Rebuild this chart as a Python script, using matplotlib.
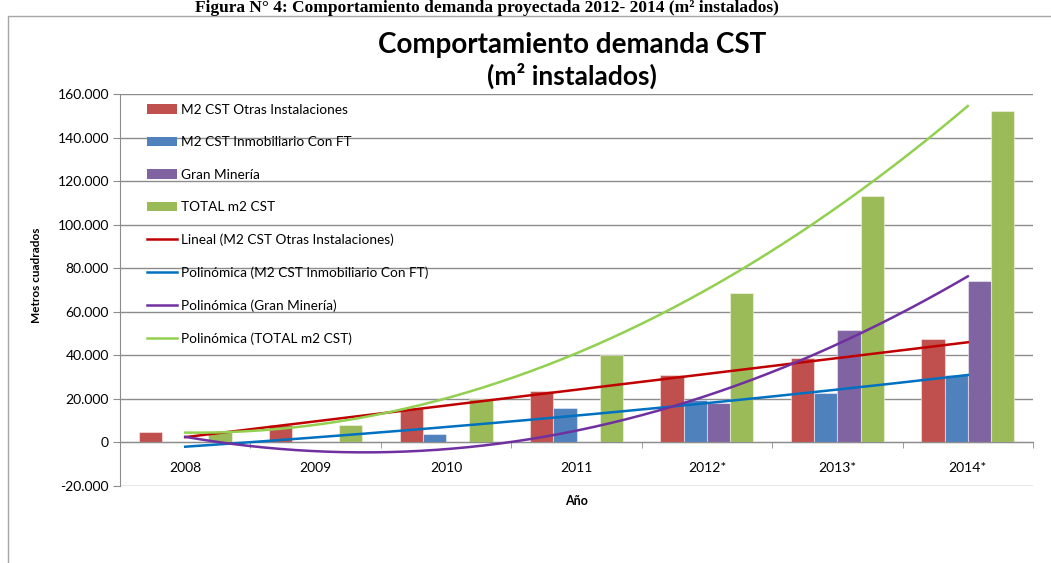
import numpy as np
import matplotlib
matplotlib.use("Agg")
import matplotlib.pyplot as plt
from matplotlib.patches import Rectangle, Patch
from matplotlib.lines import Line2D
from matplotlib.ticker import FuncFormatter, FixedLocator

plt.rcParams['font.family'] = ['Lato', 'DejaVu Sans']

# datos
years = ['2008', '2009', '2010', '2011', '2012*', '2013*', '2014*']
otras = [5000, 8000, 16000, 23500, 31000, 38700, 47300]
inmob = [0, 0, 4000, 16000, 19400, 22800, 30900]
mineria = [0, 0, 0, 0, 17900, 51700, 74200]
total = [5000, 8000, 20000, 40000, 68400, 113200, 152000]

bar_names = ['M2 CST Otras Instalaciones', 'M2 CST Inmobiliario Con FT',
             'Gran Minería', 'TOTAL m2 CST']
trend_names = ['Lineal (M2 CST Otras Instalaciones)',
               'Polinómica (M2 CST Inmobiliario Con FT)',
               'Polinómica (Gran Minería)',
               'Polinómica (TOTAL m2 CST)']
bar_colors = ['#C0504D', '#4F81BD', '#8064A2', '#9BBB59']
trend_colors = ['#C00000', '#0070C0', '#7030A0', '#92D050']
trend_order = [1, 2, 2, 2]

series = [otras, inmob, mineria, total]

fig = plt.figure(figsize=(10.51, 5.63), dpi=100)
ax = fig.add_axes([120/1051, 1-486/563, 913/1051, 392/563])

x = np.arange(len(years))
w = 0.178
offs = [-1.5*w, -0.5*w, 0.5*w, 1.5*w]
for s, c, o in zip(series, bar_colors, offs):
    ax.bar(x + o, s, width=w, color=c, edgecolor=(1, 1, 1, 0.45),
           linewidth=0.8, zorder=2)

# lineas de tendencia (ajuste como en Excel)
xf = np.linspace(0, len(years)-1, 200)
for s, c, k in zip(series, trend_colors, trend_order):
    p = np.polyfit(x, s, k)
    ax.plot(xf, np.polyval(p, xf), color=c, lw=1.8, zorder=3)

ax.set_xlim(-0.5, len(years)-0.5)
ax.set_ylim(-20000, 160000)
ax.set_yticks(np.arange(-20000, 160001, 20000))
ax.yaxis.set_major_formatter(FuncFormatter(lambda v, p: f"{v:,.0f}".replace(",", ".")))
ax.grid(axis='y', color='#8C8C8C', lw=1, zorder=0)
ax.set_axisbelow(True)

for sp in ['top', 'right']:
    ax.spines[sp].set_visible(False)
ax.spines['left'].set_color('#8C8C8C')
ax.spines['bottom'].set_color('#8C8C8C')
ax.spines['bottom'].set_position(('data', 0))

ax.set_xticks(x)
ax.set_xticklabels(years)
ax.xaxis.set_minor_locator(FixedLocator(np.arange(-0.5, len(years), 1)))
ax.tick_params(axis='x', which='major', length=0, pad=14, labelsize=10)
ax.tick_params(axis='x', which='minor', length=4, color='#8C8C8C', direction='out')
ax.tick_params(axis='y', length=5, color='#8C8C8C', labelsize=10, pad=3)

ax.set_ylabel('Metros cuadrados', fontsize=8.5, fontweight='bold')
ax.yaxis.set_label_coords(-0.0856, 0.538)
ax.set_xlabel('Año', fontsize=9, fontweight='bold')
ax.xaxis.set_label_coords(0.5, -0.022)

handles = [Patch(facecolor=c) for c in bar_colors] + \
          [Line2D([], [], color=c, lw=1.8) for c in trend_colors]
ax.legend(handles, bar_names + trend_names, loc='upper left',
          bbox_to_anchor=(0.0296, 0.975), frameon=False, fontsize=9.8,
          labelspacing=1.5, handlelength=2.2, handletextpad=0.3,
          borderpad=0, borderaxespad=0)

fig.text(572/1051, 1-45/563, 'Comportamiento demanda CST', ha='center',
         va='center', fontsize=20, fontweight='bold')
fig.text(572/1051, 1-76/563, '(m² instalados)', ha='center',
         va='center', fontsize=19, fontweight='bold')

fig.add_artist(Rectangle((8/1051, -0.1), 1.2, 1.1 - 16/563, transform=fig.transFigure,
                         fill=False, edgecolor='#A6A6A6', lw=1))
fig.text(487/1051, 1-12/563,
         'Figura N° 4: Comportamiento demanda proyectada 2012- 2014 (m² instalados)',
         ha='center', va='baseline', fontsize=12.5, fontweight='bold',
         family='Liberation Serif')

fig.savefig('out.png', dpi=100)
